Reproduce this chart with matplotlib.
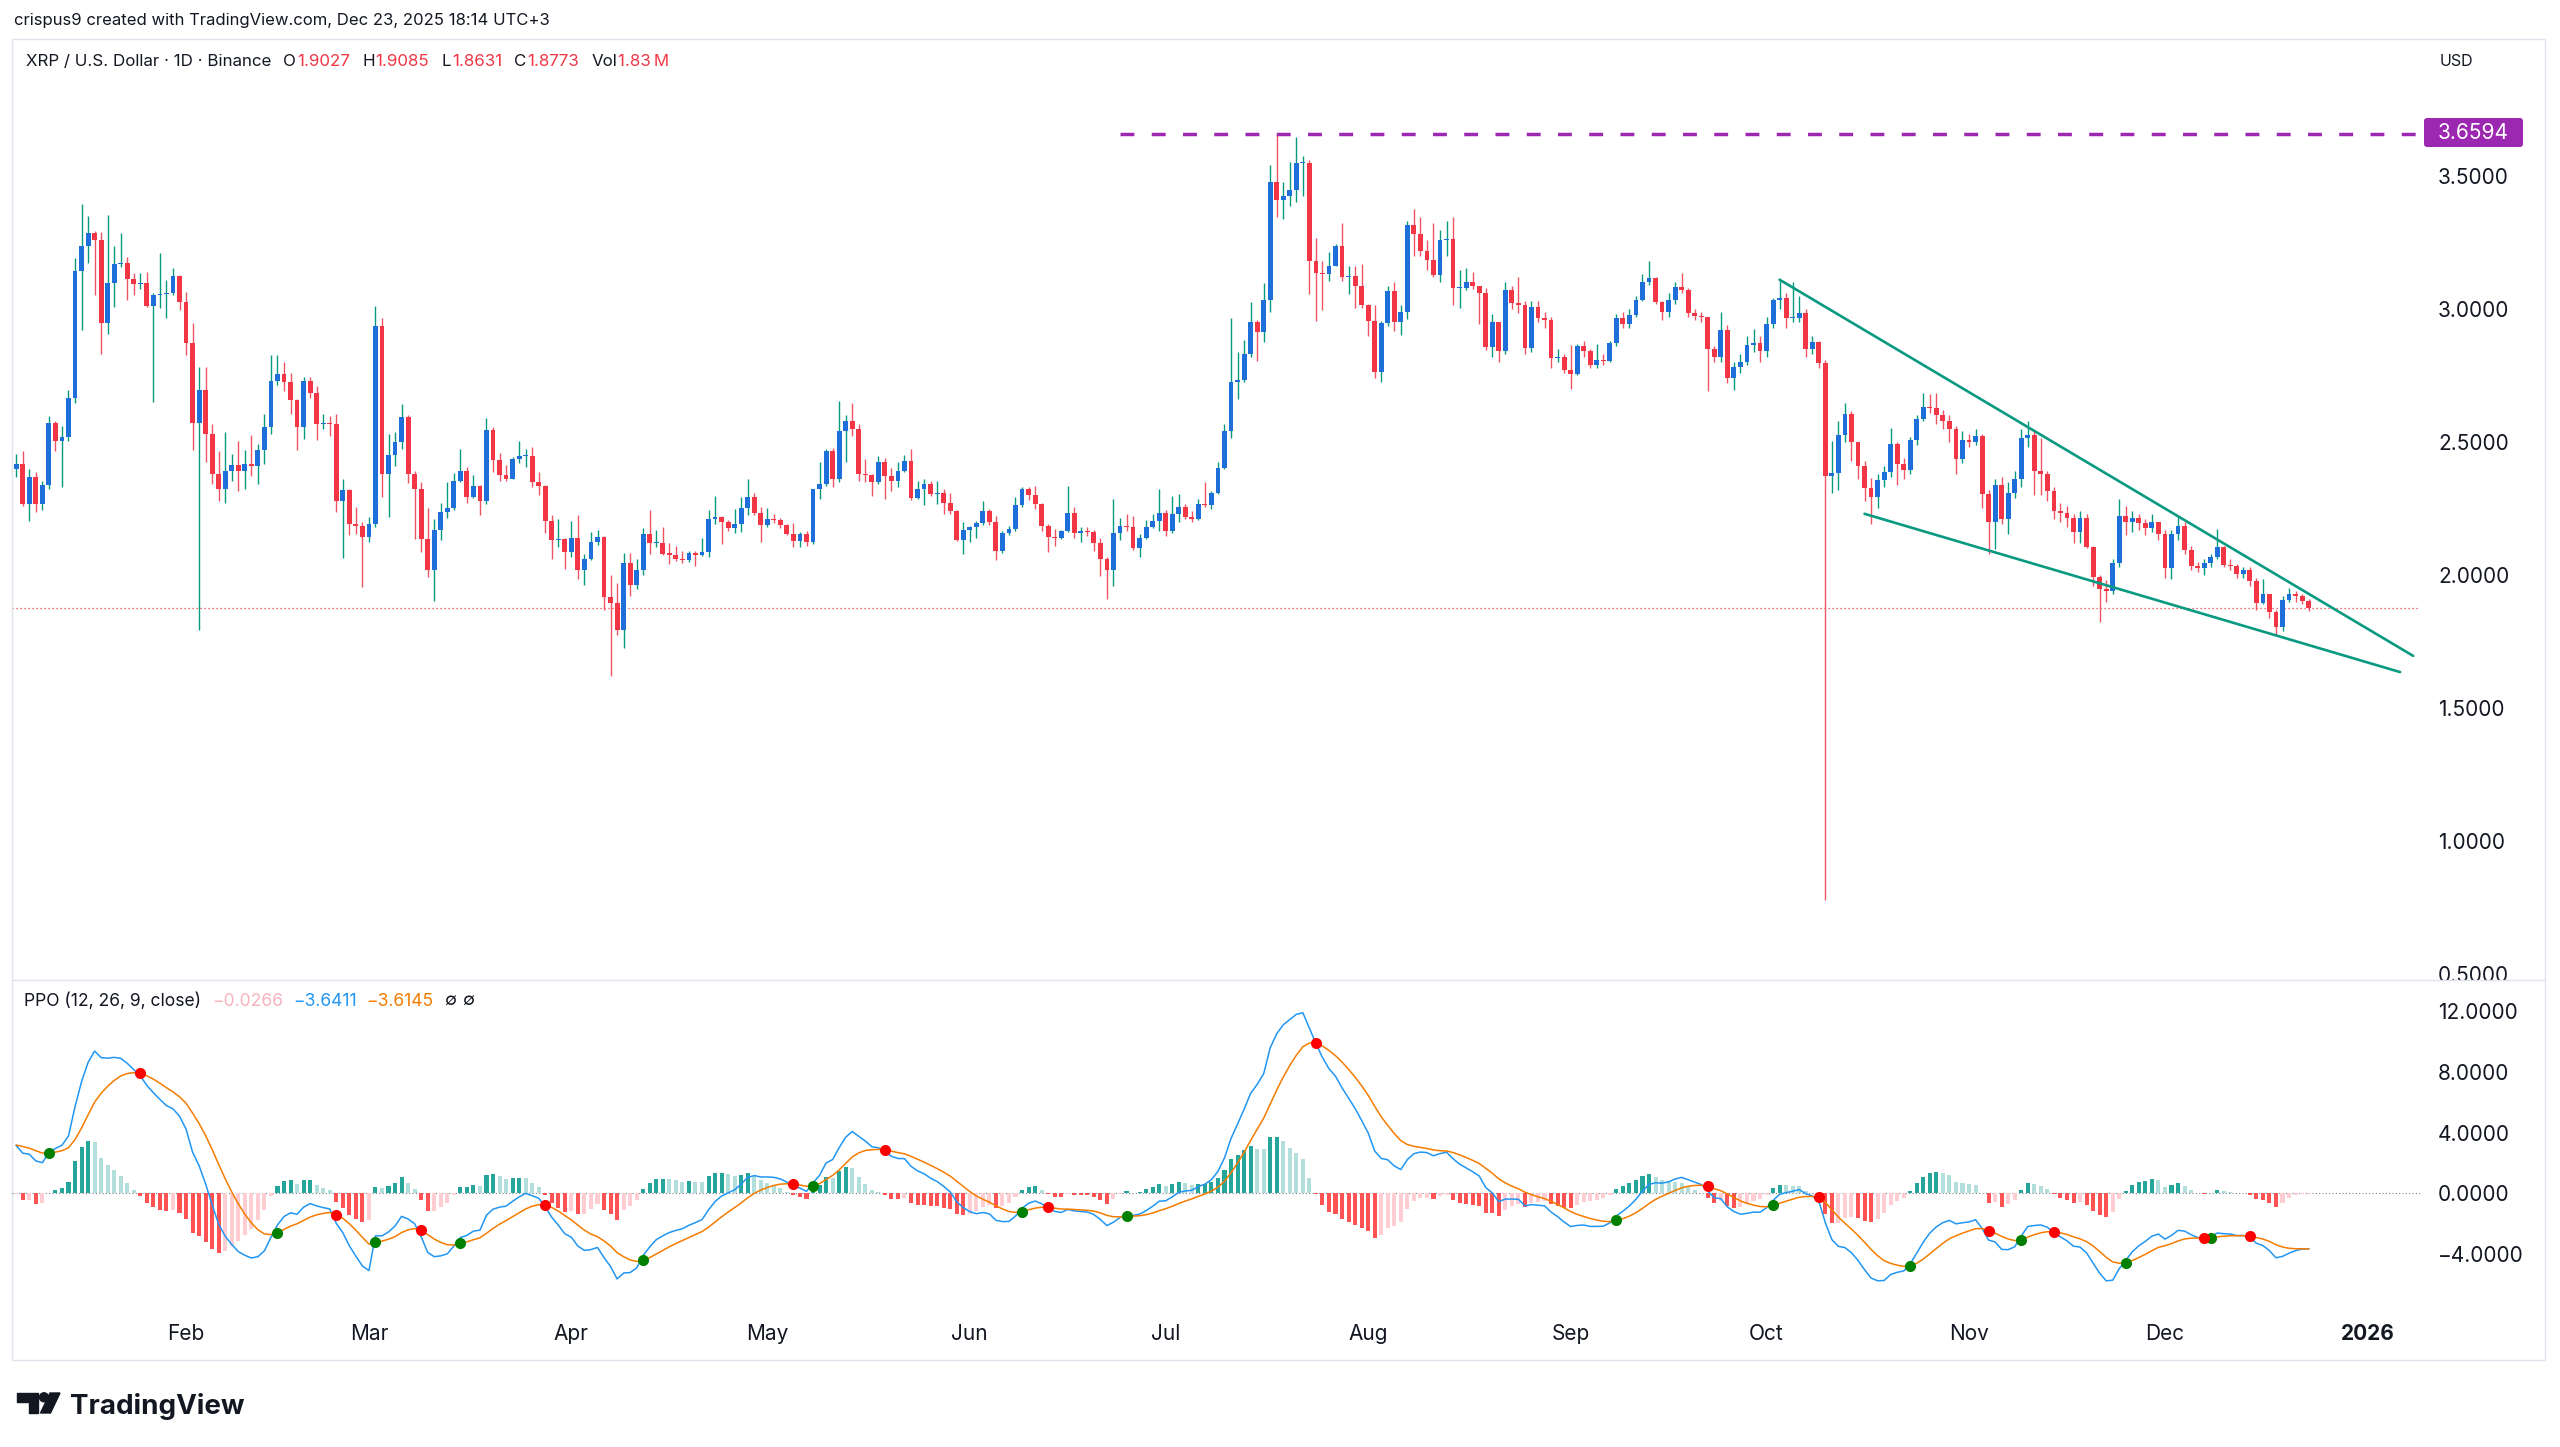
import numpy as np
import pandas as pd
import matplotlib
matplotlib.use("Agg")
import matplotlib.pyplot as plt
import matplotlib.dates as mdates
from matplotlib.patches import Rectangle, Polygon, Circle, FancyBboxPatch

plt.rcParams['font.family'] = ['Inter', 'DejaVu Sans']

# ---- XRP / USD daily candles (Binance) ----
start_date = "2025-01-06"
first_open = 2.398

closes = [
    2.416, 2.267, 2.369, 2.267, 2.339, 2.572, 2.504, 2.519, 2.666, 3.141,
    3.237, 3.287, 3.259, 2.947, 3.097, 3.168, 3.174, 3.112, 3.093, 3.096,
    3.013, 3.051, 3.055, 3.059, 3.124, 3.028, 2.872, 2.572, 2.697, 2.529,
    2.379, 2.323, 2.391, 2.414, 2.391, 2.419, 2.410, 2.469, 2.556, 2.731,
    2.757, 2.725, 2.656, 2.556, 2.731, 2.685, 2.569, 2.570, 2.568, 2.277,
    2.319, 2.192, 2.185, 2.142, 2.192, 2.937, 2.381, 2.451, 2.500, 2.595,
    2.381, 2.322, 2.134, 2.020, 2.169, 2.237, 2.250, 2.355, 2.391, 2.292,
    2.335, 2.279, 2.546, 2.431, 2.375, 2.362, 2.437, 2.447, 2.449, 2.348,
    2.335, 2.204, 2.132, 2.134, 2.086, 2.138, 2.020, 2.059, 2.125, 2.141,
    1.919, 1.895, 1.793, 2.046, 1.961, 2.020, 2.155, 2.119, 2.121, 2.079,
    2.077, 2.059, 2.056, 2.082, 2.077, 2.086, 2.211, 2.217, 2.200, 2.178,
    2.191, 2.250, 2.292, 2.234, 2.187, 2.211, 2.207, 2.187, 2.155, 2.129,
    2.154, 2.123, 2.323, 2.341, 2.466, 2.360, 2.541, 2.579, 2.548, 2.381,
    2.376, 2.348, 2.426, 2.373, 2.354, 2.391, 2.429, 2.289, 2.323, 2.341,
    2.304, 2.310, 2.269, 2.239, 2.132, 2.169, 2.179, 2.194, 2.242, 2.198,
    2.092, 2.157, 2.173, 2.264, 2.323, 2.302, 2.267, 2.185, 2.144, 2.139,
    2.164, 2.232, 2.157, 2.165, 2.160, 2.119, 2.061, 2.019, 2.157, 2.185,
    2.180, 2.102, 2.139, 2.179, 2.204, 2.232, 2.167, 2.229, 2.254, 2.217,
    2.210, 2.267, 2.262, 2.310, 2.404, 2.540, 2.726, 2.733, 2.831, 2.952,
    2.913, 3.035, 3.478, 3.409, 3.423, 3.449, 3.547, 3.550, 3.180, 3.136,
    3.132, 3.162, 3.236, 3.120, 3.123, 3.088, 3.015, 2.956, 2.763, 2.947,
    3.068, 2.950, 2.989, 3.317, 3.281, 3.219, 3.183, 3.127, 3.258, 3.262,
    3.078, 3.078, 3.103, 3.085, 3.060, 2.856, 2.950, 2.843, 3.070, 3.022,
    3.015, 2.853, 3.009, 2.966, 2.960, 2.816, 2.818, 2.772, 2.756, 2.860,
    2.841, 2.791, 2.810, 2.805, 2.872, 2.966, 2.943, 2.976, 3.034, 3.103,
    3.115, 3.028, 2.990, 3.034, 3.081, 3.072, 2.984, 2.972, 2.970, 2.851,
    2.818, 2.922, 2.739, 2.781, 2.800, 2.863, 2.872, 2.843, 2.943, 3.034,
    3.040, 2.966, 2.966, 2.984, 2.851, 2.876, 2.797, 2.373, 2.385, 2.526,
    2.606, 2.501, 2.410, 2.327, 2.292, 2.357, 2.389, 2.491, 2.419, 2.394,
    2.506, 2.588, 2.631, 2.628, 2.601, 2.579, 2.548, 2.435, 2.506, 2.501,
    2.523, 2.304, 2.198, 2.339, 2.210, 2.310, 2.360, 2.516, 2.526, 2.391,
    2.379, 2.317, 2.242, 2.232, 2.214, 2.161, 2.214, 2.107, 1.992, 1.948,
    1.940, 2.044, 2.223, 2.198, 2.215, 2.194, 2.177, 2.198, 2.154, 2.027,
    2.154, 2.185, 2.094, 2.032, 2.027, 2.044, 2.069, 2.107, 2.039, 2.032,
    2.004, 2.019, 1.977, 1.895, 1.927, 1.861, 1.805, 1.907, 1.930, 1.920,
    1.903, 1.8773,
]

highs = [
    2.454, 2.466, 2.398, 2.388, 2.354, 2.597, 2.579, 2.560, 2.694, 3.190,
    3.394, 3.349, 3.293, 3.290, 3.355, 3.238, 3.287, 3.197, 3.134, 3.137,
    3.140, 3.060, 3.209, 3.109, 3.153, 3.128, 3.065, 2.947, 2.781, 2.781,
    2.566, 2.466, 2.538, 2.456, 2.504, 2.469, 2.525, 2.491, 2.604, 2.828,
    2.828, 2.800, 2.760, 2.660, 2.743, 2.743, 2.710, 2.604, 2.597, 2.606,
    2.360, 2.325, 2.254, 2.200, 2.217, 3.012, 2.966, 2.531, 2.538, 2.644,
    2.600, 2.390, 2.348, 2.253, 2.210, 2.270, 2.348, 2.384, 2.473, 2.407,
    2.375, 2.340, 2.589, 2.558, 2.460, 2.414, 2.445, 2.502, 2.473, 2.480,
    2.388, 2.340, 2.224, 2.210, 2.140, 2.204, 2.224, 2.079, 2.160, 2.171,
    2.145, 2.000, 1.971, 2.082, 2.082, 2.059, 2.178, 2.243, 2.171, 2.182,
    2.121, 2.108, 2.092, 2.092, 2.092, 2.138, 2.243, 2.296, 2.220, 2.205,
    2.247, 2.292, 2.361, 2.309, 2.257, 2.250, 2.230, 2.215, 2.190, 2.195,
    2.160, 2.167, 2.325, 2.423, 2.473, 2.479, 2.654, 2.601, 2.647, 2.566,
    2.435, 2.380, 2.448, 2.441, 2.404, 2.426, 2.451, 2.473, 2.354, 2.360,
    2.354, 2.354, 2.323, 2.310, 2.245, 2.198, 2.185, 2.204, 2.279, 2.248,
    2.223, 2.165, 2.185, 2.292, 2.329, 2.330, 2.335, 2.270, 2.190, 2.173,
    2.169, 2.335, 2.254, 2.179, 2.179, 2.170, 2.139, 2.067, 2.285, 2.214,
    2.229, 2.223, 2.154, 2.207, 2.229, 2.323, 2.244, 2.298, 2.306, 2.267,
    2.240, 2.285, 2.348, 2.316, 2.423, 2.569, 2.965, 2.838, 2.884, 3.028,
    2.960, 3.097, 3.543, 3.659, 3.477, 3.554, 3.646, 3.574, 3.560, 3.265,
    3.180, 3.215, 3.245, 3.324, 3.160, 3.160, 3.170, 3.020, 3.015, 2.956,
    3.088, 3.100, 3.015, 3.330, 3.377, 3.344, 3.258, 3.324, 3.298, 3.330,
    3.346, 3.147, 3.153, 3.140, 3.085, 3.080, 2.980, 2.950, 3.100, 3.085,
    3.122, 3.030, 3.030, 3.030, 2.990, 2.970, 2.850, 2.830, 2.866, 2.870,
    2.880, 2.850, 2.870, 2.830, 2.880, 2.980, 2.990, 3.000, 3.050, 3.130,
    3.180, 3.120, 3.030, 3.060, 3.100, 3.134, 3.080, 3.000, 2.990, 2.970,
    2.860, 2.990, 2.940, 2.800, 2.830, 2.900, 2.925, 2.900, 2.970, 3.040,
    3.110, 3.060, 3.100, 3.050, 3.000, 2.900, 2.880, 2.810, 2.503, 2.579,
    2.645, 2.615, 2.500, 2.430, 2.366, 2.380, 2.410, 2.554, 2.500, 2.440,
    2.520, 2.600, 2.685, 2.680, 2.685, 2.620, 2.600, 2.560, 2.540, 2.530,
    2.550, 2.530, 2.320, 2.360, 2.370, 2.350, 2.390, 2.550, 2.580, 2.540,
    2.515, 2.390, 2.330, 2.270, 2.260, 2.230, 2.240, 2.230, 2.110, 2.000,
    1.980, 2.060, 2.285, 2.260, 2.240, 2.230, 2.210, 2.230, 2.200, 2.170,
    2.170, 2.219, 2.200, 2.110, 2.050, 2.060, 2.080, 2.173, 2.110, 2.060,
    2.040, 2.030, 2.030, 1.990, 1.986, 1.930, 1.870, 1.920, 1.950, 1.940,
    1.930, 1.9085,
]

lows = [
    2.367, 2.260, 2.204, 2.235, 2.244, 2.323, 2.466, 2.329, 2.504, 2.647,
    2.920, 3.172, 3.053, 2.832, 2.906, 3.007, 3.159, 3.032, 3.051, 3.074,
    3.007, 2.651, 3.003, 2.966, 3.053, 2.997, 2.828, 2.469, 1.792, 2.423,
    2.341, 2.279, 2.269, 2.354, 2.314, 2.323, 2.373, 2.341, 2.416, 2.529,
    2.716, 2.691, 2.604, 2.469, 2.510, 2.666, 2.506, 2.547, 2.522, 2.235,
    2.064, 2.152, 2.154, 1.954, 2.123, 2.179, 2.292, 2.219, 2.410, 2.473,
    2.344, 2.135, 2.086, 1.994, 1.902, 2.132, 2.213, 2.243, 2.348, 2.270,
    2.289, 2.224, 2.266, 2.388, 2.355, 2.355, 2.362, 2.421, 2.407, 2.329,
    2.302, 2.158, 2.059, 2.105, 2.024, 2.066, 1.984, 1.961, 2.055, 2.112,
    1.869, 1.619, 1.774, 1.724, 1.921, 1.948, 2.000, 2.079, 2.105, 2.075,
    2.040, 2.053, 2.046, 2.050, 2.033, 2.073, 2.066, 2.191, 2.118, 2.164,
    2.158, 2.161, 2.224, 2.224, 2.125, 2.182, 2.195, 2.178, 2.151, 2.105,
    2.104, 2.110, 2.117, 2.285, 2.335, 2.329, 2.348, 2.423, 2.523, 2.354,
    2.348, 2.298, 2.341, 2.285, 2.316, 2.329, 2.389, 2.282, 2.285, 2.264,
    2.298, 2.267, 2.229, 2.229, 2.127, 2.079, 2.123, 2.139, 2.189, 2.189,
    2.057, 2.082, 2.152, 2.167, 2.257, 2.282, 2.248, 2.167, 2.086, 2.110,
    2.135, 2.160, 2.139, 2.123, 2.148, 2.089, 1.998, 1.911, 1.960, 2.132,
    2.167, 2.094, 2.067, 2.135, 2.175, 2.167, 2.148, 2.157, 2.198, 2.210,
    2.198, 2.205, 2.254, 2.248, 2.304, 2.398, 2.516, 2.660, 2.726, 2.818,
    2.805, 2.877, 2.989, 3.344, 3.337, 3.386, 3.403, 3.423, 3.055, 2.956,
    2.996, 3.107, 3.160, 3.107, 3.055, 3.002, 3.002, 2.897, 2.739, 2.726,
    2.936, 2.917, 2.904, 2.963, 3.199, 3.199, 3.147, 3.120, 3.100, 3.199,
    3.015, 3.002, 3.070, 3.075, 2.943, 2.845, 2.820, 2.800, 2.830, 3.000,
    2.984, 2.830, 2.840, 2.950, 2.930, 2.780, 2.800, 2.760, 2.700, 2.750,
    2.820, 2.780, 2.780, 2.790, 2.800, 2.860, 2.930, 2.930, 2.970, 3.030,
    3.090, 3.020, 2.960, 2.970, 3.020, 3.060, 2.970, 2.960, 2.950, 2.690,
    2.800, 2.800, 2.720, 2.697, 2.760, 2.790, 2.840, 2.800, 2.820, 2.930,
    3.000, 2.930, 2.950, 2.950, 2.820, 2.830, 2.780, 0.780, 2.310, 2.320,
    2.500, 2.430, 2.360, 2.280, 2.192, 2.250, 2.330, 2.370, 2.340, 2.360,
    2.380, 2.490, 2.580, 2.610, 2.569, 2.550, 2.500, 2.380, 2.420, 2.480,
    2.490, 2.250, 2.080, 2.098, 2.190, 2.154, 2.290, 2.330, 2.480, 2.300,
    2.300, 2.280, 2.210, 2.200, 2.180, 2.120, 2.120, 2.100, 1.960, 1.823,
    1.900, 1.930, 2.030, 2.150, 2.160, 2.170, 2.150, 2.160, 2.130, 1.990,
    1.985, 2.130, 2.080, 2.020, 2.010, 2.000, 2.030, 2.060, 2.030, 2.020,
    1.990, 1.990, 1.960, 1.870, 1.890, 1.840, 1.774, 1.790, 1.900, 1.900,
    1.890, 1.8631,
]

ath_price = 3.6594
ath_from = "2025-06-24"
last_price = 1.8773

# falling wedge drawn on the chart: (date, price) end points
upper_line = [("2025-10-03", 3.110), ("2026-01-08", 1.696)]
lower_line = [("2025-10-16", 2.230), ("2026-01-06", 1.635)]

# PPO(12, 26, 9) state just before the first visible bar
ema_fast0, ema_slow0, signal0 = 2.330, 2.260, 3.2

price_ticks = [0.5, 1.0, 1.5, 2.0, 2.5, 3.0, 3.5]
ppo_ticks = [-4, 0, 4, 8, 12]
month_ticks = ["2025-02-01", "2025-03-01", "2025-04-01", "2025-05-01", "2025-06-01",
               "2025-07-01", "2025-08-01", "2025-09-01", "2025-10-01", "2025-11-01",
               "2025-12-01", "2026-01-01"]
month_labels = ["Feb", "Mar", "Apr", "May", "Jun", "Jul", "Aug", "Sep", "Oct", "Nov",
                "Dec", "2026"]

# colours
UP_BODY, UP_WICK = "#1e6fd9", "#089981"
DN_BODY, DN_WICK = "#f23645", "#f05363"
TXT = "#131722"
LINE_C = "#e0e3eb"

c = np.array(closes)
hi = np.array(highs)
lo = np.array(lows)
o = np.r_[first_open, c[:-1]]
hi = np.maximum(hi, np.maximum(o, c))
lo = np.minimum(lo, np.minimum(o, c))
dates = pd.date_range(start_date, periods=len(c), freq="D")
x = mdates.date2num(dates)

# PPO
fast = np.empty_like(c)
slow = np.empty_like(c)
ef, es = ema_fast0, ema_slow0
for i, v in enumerate(c):
    ef += (v - ef) * 2 / 13
    es += (v - es) * 2 / 27
    fast[i], slow[i] = ef, es
ppo = (fast - slow) / slow * 100
sig = np.empty_like(ppo)
s = signal0
for i, v in enumerate(ppo):
    s += (v - s) * 2 / 10
    sig[i] = s
hist = ppo - sig

# ---- figure / layout in pixels ----
W, H = 2560, 1447
fig = plt.figure(figsize=(W / 100, H / 100), dpi=100)


def box(l, t, r, b):
    return [l / W, 1 - b / H, (r - l) / W, (b - t) / H]


x0 = mdates.date2num(pd.Timestamp("2025-01-01"))
xlim = (x0 + 4.35, x0 + 373.05)

ax = fig.add_axes(box(12, 39, 2420, 980), zorder=1)
ax2 = fig.add_axes(box(12, 980, 2420, 1312), zorder=3)
over = fig.add_axes([0, 0, 1, 1], zorder=2)
over.set_xlim(0, W)
over.set_ylim(H, 0)
over.axis("off")
over.patch.set_visible(False)

for a in (ax, ax2):
    a.set_xlim(*xlim)
    for sp in a.spines.values():
        sp.set_visible(False)
    a.yaxis.tick_right()
    a.tick_params(axis="y", length=0, pad=13, labelsize=15, colors=TXT)
    a.patch.set_alpha(0)

# candles
up = c >= o
bot = np.minimum(o, c)
hgt = np.maximum(np.abs(c - o), 0.004)
ax.vlines(x[up], lo[up], hi[up], color=UP_WICK, lw=1.0, zorder=2)
ax.vlines(x[~up], lo[~up], hi[~up], color=DN_WICK, lw=1.0, zorder=2)
ax.bar(x[up], hgt[up], bottom=bot[up], width=0.74, color=UP_BODY, lw=0, zorder=3)
ax.bar(x[~up], hgt[~up], bottom=bot[~up], width=0.74, color=DN_BODY, lw=0, zorder=3)

ax.set_ylim(0.4774, 4.015)
ax.set_yticks(price_ticks)
ax.set_yticklabels([f"{v:.4f}" for v in price_ticks])
ax.set_xticks([])

# ATH dashed ray and last price dotted line
ax.plot([mdates.date2num(pd.Timestamp(ath_from)), xlim[1]], [ath_price, ath_price],
        color="#9c27b0", lw=2.5, dashes=(4, 5), zorder=4, solid_capstyle="butt")
ax.axhline(last_price, color="#f23645", lw=0.9, ls=(0, (1, 2.2)), zorder=1)

for line in (upper_line, lower_line):
    xs = [mdates.date2num(pd.Timestamp(d)) for d, _ in line]
    ys = [p for _, p in line]
    ax.plot(xs, ys, color="#089981", lw=1.9, zorder=5, solid_capstyle="round")

# PPO pane
prev = np.r_[hist[0], hist[:-1]]
hcol = np.where(hist >= 0, np.where(hist > prev, "#26a69a", "#b2dfdb"),
                np.where(hist < prev, "#ff5252", "#ffcdd2"))
ax2.bar(x, hist, width=0.62, color=hcol, lw=0, zorder=2)
ax2.axhline(0, color="#787b86", lw=0.8, ls=(0, (1, 2)), zorder=1)
ax2.plot(x, ppo, color="#2196f3", lw=1.1, zorder=3)
ax2.plot(x, sig, color="#f57c00", lw=1.1, zorder=4)
d = ppo - sig
cu = np.where((d[1:] > 0) & (d[:-1] <= 0))[0] + 1
cd = np.where((d[1:] < 0) & (d[:-1] >= 0))[0] + 1
ax2.plot(x[cu], sig[cu], "o", color="#008000", ms=8, mew=0, zorder=5)
ax2.plot(x[cd], sig[cd], "o", color="#ff0000", ms=8, mew=0, zorder=5)

ax2.set_ylim(-7.8, 14.05)
ax2.set_yticks(ppo_ticks)
ax2.set_yticklabels([f"{v:.4f}".replace("-", "\u2212") for v in ppo_ticks])
ax2.set_xticks([mdates.date2num(pd.Timestamp(t)) for t in month_ticks])
ax2.set_xticklabels(month_labels)
ax2.tick_params(axis="x", length=0, pad=9, labelsize=15, colors=TXT)
ax2.get_xticklabels()[-1].set_fontweight("bold")

# ---- frame, header, legends, logo ----
over.add_patch(Rectangle((2421, 981), 123, 330, color="white", zorder=1))
over.add_patch(Rectangle((12, 39), 2533, 1321, fill=False, ec=LINE_C, lw=1, zorder=2))
over.plot([12, 2545], [980, 980], color=LINE_C, lw=1, zorder=2)

over.add_patch(FancyBboxPatch((2424, 118), 99, 29, boxstyle="round,pad=0,rounding_size=3",
                              fc="#9c27b0", ec="none", zorder=3))
over.text(2438, 133, f"{ath_price:.4f}", color="white", fontsize=15, va="center",
          ha="left", zorder=4)

over.text(14, 21, "crispus9 created with TradingView.com, Dec 23, 2025 18:14 UTC+3",
          color=TXT, fontsize=12, va="center", ha="left")
over.text(2440, 62, "USD", color=TXT, fontsize=11.5, va="center", ha="left")

fig.canvas.draw()
rend = fig.canvas.get_renderer()


def seq(xp, yp, parts, size):
    for txt, col, gap in parts:
        t = over.text(xp, yp, txt, color=col, fontsize=size, va="center", ha="left")
        xp += t.get_window_extent(renderer=rend).width + gap


RED = "#f23645"
seq(26, 61, [("XRP / U.S. Dollar \u00b7 1D \u00b7 Binance", TXT, 12),
             ("O", TXT, 1), ("1.9027", RED, 12), ("H", TXT, 1), ("1.9085", RED, 12),
             ("L", TXT, 1), ("1.8631", RED, 12), ("C", TXT, 1), ("1.8773", RED, 12),
             ("Vol", TXT, 1), ("1.83\u2009M", RED, 0)], 12.2)
seq(24, 1001, [("PPO (12, 26, 9, close)", TXT, 11), ("\u22120.0266", "#f7b3bd", 10),
               ("\u22123.6411", "#2196f3", 10), ("\u22123.6145", "#f57c00", 11),
               ("\u2205", TXT, 6), ("\u2205", TXT, 0)], 12.6)

# TradingView logo
over.add_patch(Polygon([(17, 1393), (38, 1393), (38, 1413), (28.5, 1413), (28.5, 1402),
                        (17, 1402)], closed=True, color=TXT))
over.add_patch(Circle((44, 1397.3), 4.5, color=TXT))
over.add_patch(Polygon([(50, 1393), (60, 1393), (50.5, 1413), (40.5, 1413)], closed=True,
                       color=TXT))
over.text(70, 1413.5, "TradingView", color=TXT, fontsize=20, fontweight="bold",
          va="baseline", ha="left")

fig.savefig("out.png", dpi=100, facecolor="white")
